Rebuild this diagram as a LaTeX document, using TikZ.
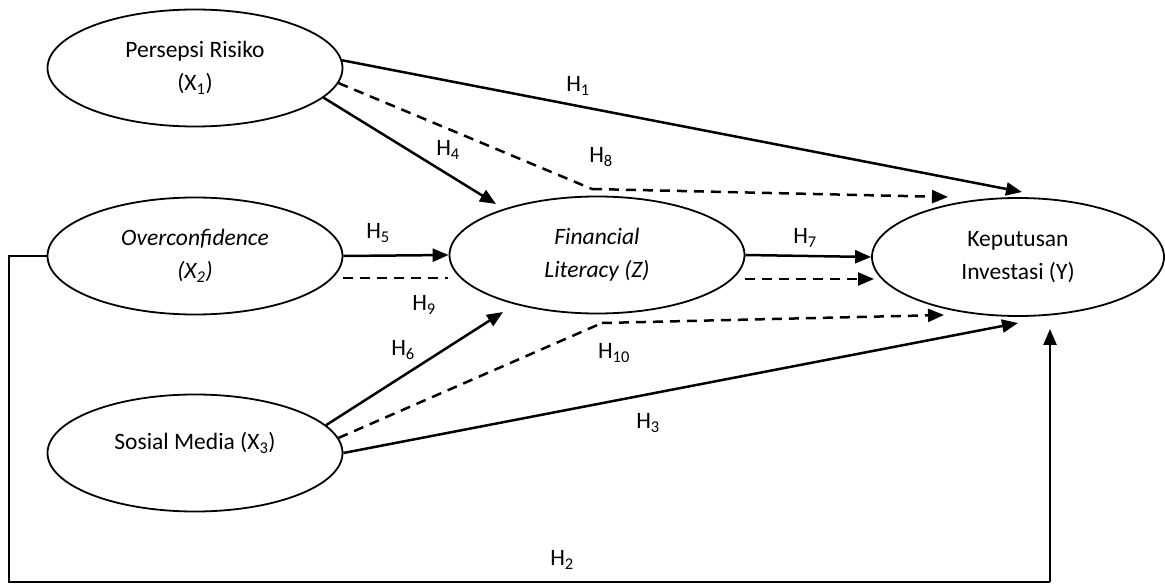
\documentclass[tikz,border=0pt]{standalone}
\usepackage{fontspec}
\setmainfont{Carlito}
\usetikzlibrary{shapes.geometric,arrows.meta}
\begin{document}
\begin{tikzpicture}[x=1pt,y=-1pt,
  font=\fontsize{23.5}{33}\selectfont,
  var/.style={ellipse,draw,line width=1.8pt,minimum width=295pt,minimum height=117pt,inner sep=0pt,align=center},
  conn/.style={line width=2.5pt,-{Triangle[length=16pt,width=13pt]}},
  plain/.style={line width=2.5pt},
  dsh/.style={line width=2.5pt,dash pattern=on 10pt off 7pt},
  hyp/.style={inner sep=0pt}]
\useasboundingbox (0,0) rectangle (1165,585);
% variables
\node[var] (x1) at (195,68) {Persepsi Risiko\\(X\textsubscript{1})};
\node[var] (x2) at (195,256) {\textit{Overconfidence}\\\textit{(X\textsubscript{2})}};
\node[var] (x3) at (195,453) {};
\node (x3t) at (195,443) {Sosial Media (X\textsubscript{3})};
\node[var] (z) at (597,255) {\textit{Financial}\\\textit{Literacy (Z)}};
\node[var,minimum width=292pt,minimum height=118pt] (y) at (1018,257) {Keputusan\\Investasi (Y)};
% helper coordinates
\coordinate (h1e) at (1022,192);
\coordinate (h4e) at (496,204);
\coordinate (h8k) at (592,189);
\coordinate (h8e) at (948,197);
\coordinate (h9a) at (343,278);
\coordinate (h9b) at (448,278);
\coordinate (h7a) at (745,279);
\coordinate (h7b) at (874,279);
\coordinate (h6e) at (503,312);
\coordinate (h10k) at (602,323);
\coordinate (h10e) at (944,315);
\coordinate (h3e) at (1018,323);
\coordinate (c1) at (9,582);
\coordinate (c2) at (1050,582);
\coordinate (h2e) at (1050,329);
% connectors
\draw[conn] (x1.3) -- (h1e);
\draw[conn] (x1.-13) -- (h4e);
\draw[dsh] (x1.-6) -- (h8k);
\draw[dsh,-{Triangle[length=16pt,width=13pt]}] (h8k) -- (h8e);
\draw[conn] (x2.east) -- (z.west);
\draw[dsh] (h9a) -- (h9b);
\draw[conn] (z.east) -- (y.west);
\draw[dsh,-{Triangle[length=16pt,width=13pt]}] (h7a) -- (h7b);
\draw[conn] (x3.12) -- (h6e);
\draw[dsh] (x3.6) -- (h10k);
\draw[dsh,-{Triangle[length=16pt,width=13pt]}] (h10k) -- (h10e);
\draw[conn] (x3.east) -- (h3e);
\draw[plain] (x2.west) -| (c1) -- (c2);
\draw[conn] (c2) -- (h2e);
% labels
\node[hyp] (l1) at (578,86) {H\textsubscript{1}};
\node[hyp] (l4) at (448,150) {H\textsubscript{4}};
\node[hyp] (l8) at (601,157) {H\textsubscript{8}};
\node[hyp] (l5) at (378,233) {H\textsubscript{5}};
\node[hyp] (l9) at (424,305) {H\textsubscript{9}};
\node[hyp] (l7) at (805,238) {H\textsubscript{7}};
\node[hyp] (l6) at (403,350) {H\textsubscript{6}};
\node[hyp] (l10) at (614,353) {H\textsubscript{10}};
\node[hyp] (l3) at (648,423) {H\textsubscript{3}};
\node[hyp] (l2) at (562,560) {H\textsubscript{2}};
\end{tikzpicture}
\end{document}
